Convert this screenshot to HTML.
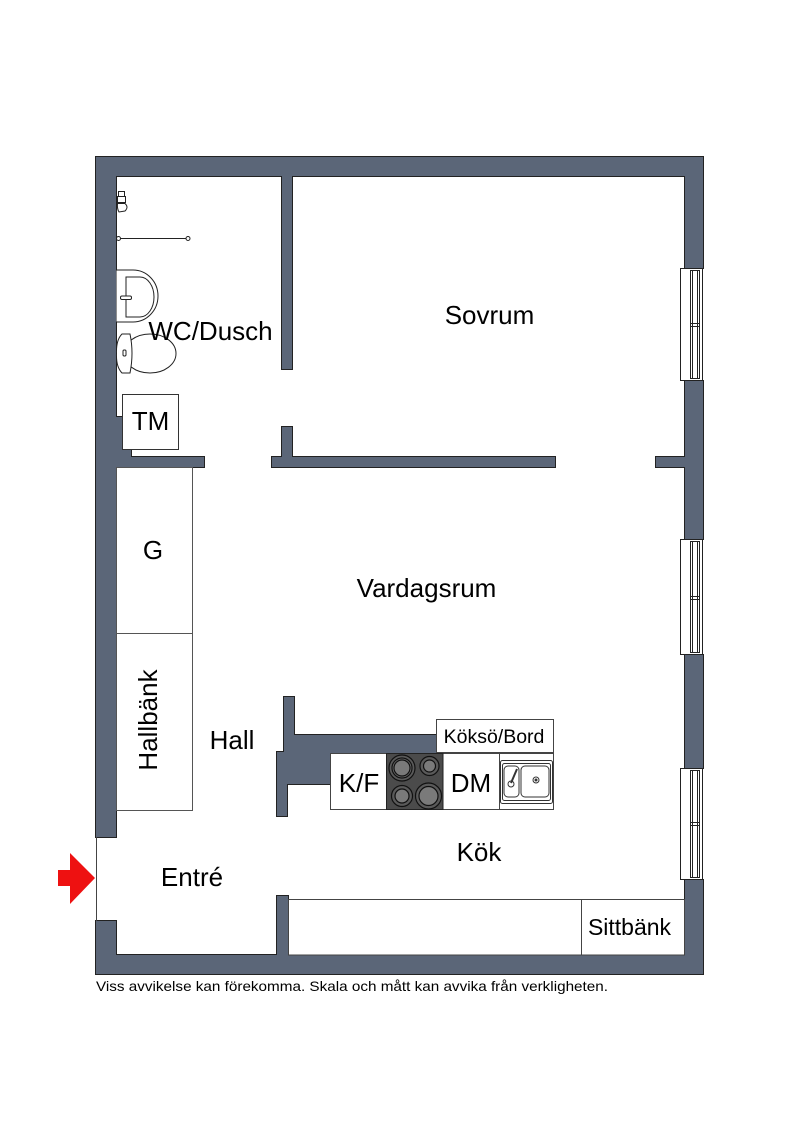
<!DOCTYPE html>
<html>
<head>
<meta charset="utf-8">
<style>
html,body{margin:0;padding:0;background:#fff;}
svg{display:block;}
text{font-family:"Liberation Sans",Arial,sans-serif;fill:#000;}
</style>
</head>
<body>
<svg width="800" height="1131" viewBox="0 0 800 1131" xmlns="http://www.w3.org/2000/svg">
<rect x="0" y="0" width="800" height="1131" fill="#fff"/>

<!-- walls: stroked pass -->
<g fill="#5b6678" stroke="#222" stroke-width="2">
  <rect x="96" y="157" width="607" height="19"/>
  <rect x="685" y="157" width="18" height="111"/>
  <rect x="685" y="381" width="18" height="158"/>
  <rect x="685" y="655" width="18" height="113"/>
  <rect x="685" y="880" width="18" height="94"/>
  <rect x="96" y="955" width="607" height="19"/>
  <rect x="96" y="157" width="20" height="680"/>
  <rect x="96" y="921" width="20" height="53"/>
  <rect x="116" y="417" width="6" height="40"/>
  <rect x="116" y="449" width="15" height="8"/>
  <rect x="116" y="457" width="88" height="10"/>
  <rect x="282" y="176" width="10" height="193"/>
  <rect x="282" y="427" width="10" height="30"/>
  <rect x="272" y="457" width="283" height="10"/>
  <rect x="656" y="457" width="29" height="10"/>
  <polygon points="284,697 294,697 294,735 437,735 437,753 330,753 330,784 287,784 287,816 277,816 277,752 284,752"/>
  <rect x="277" y="896" width="11" height="59"/>
</g>
<!-- walls: fill pass to hide internal seams -->
<g fill="#5b6678" stroke="none">
  <rect x="96" y="157" width="607" height="19"/>
  <rect x="685" y="157" width="18" height="111"/>
  <rect x="685" y="381" width="18" height="158"/>
  <rect x="685" y="655" width="18" height="113"/>
  <rect x="685" y="880" width="18" height="94"/>
  <rect x="96" y="955" width="607" height="19"/>
  <rect x="96" y="157" width="20" height="680"/>
  <rect x="96" y="921" width="20" height="53"/>
  <rect x="116" y="417" width="6" height="40"/>
  <rect x="116" y="449" width="15" height="8"/>
  <rect x="116" y="457" width="88" height="10"/>
  <rect x="282" y="176" width="10" height="193"/>
  <rect x="282" y="427" width="10" height="30"/>
  <rect x="272" y="457" width="283" height="10"/>
  <rect x="656" y="457" width="29" height="10"/>
  <polygon points="284,697 294,697 294,735 437,735 437,753 330,753 330,784 287,784 287,816 277,816 277,752 284,752"/>
  <rect x="277" y="896" width="11" height="59"/>
</g>

<!-- entrance line -->
<line x1="96.5" y1="837" x2="96.5" y2="921" stroke="#444" stroke-width="1"/>

<!-- windows -->
<g fill="#fff" stroke="#222" stroke-width="1">
  <rect x="680.5" y="268.5" width="22" height="112"/>
  <rect x="690.5" y="270.5" width="9" height="108"/>
  <line x1="692.5" y1="270.5" x2="692.5" y2="378.5"/>
  <line x1="697.5" y1="270.5" x2="697.5" y2="378.5"/>
  <line x1="690.5" y1="323.5" x2="699.5" y2="323.5"/>
  <line x1="690.5" y1="326.5" x2="699.5" y2="326.5"/>

  <rect x="680.5" y="539.5" width="22" height="115"/>
  <rect x="690.5" y="541.5" width="9" height="111"/>
  <line x1="692.5" y1="541.5" x2="692.5" y2="652.5"/>
  <line x1="697.5" y1="541.5" x2="697.5" y2="652.5"/>
  <line x1="690.5" y1="596.5" x2="699.5" y2="596.5"/>
  <line x1="690.5" y1="599.5" x2="699.5" y2="599.5"/>

  <rect x="680.5" y="768.5" width="22" height="111"/>
  <rect x="690.5" y="770.5" width="9" height="107"/>
  <line x1="692.5" y1="770.5" x2="692.5" y2="877.5"/>
  <line x1="697.5" y1="770.5" x2="697.5" y2="877.5"/>
  <line x1="690.5" y1="822.5" x2="699.5" y2="822.5"/>
  <line x1="690.5" y1="825.5" x2="699.5" y2="825.5"/>
</g>

<!-- WC fixtures -->
<g fill="#fff" stroke="#222" stroke-width="1">
  <!-- shower head -->
  <rect x="118.5" y="191.5" width="6" height="5"/>
  <rect x="117.5" y="196.5" width="8" height="6"/>
  <path d="M117.5 203.5 L125 203.5 Q129 207 125 211 L119 212 Q117 209 117.5 203.5 Z"/>
  <!-- shower rail -->
  <line x1="117" y1="238.5" x2="188" y2="238.5"/>
  <circle cx="118.5" cy="238.5" r="2"/>
  <circle cx="188" cy="238.5" r="2"/>
  <!-- sink -->
  <path d="M116.5 270 L133 270 A 25 26 0 0 1 133 322 L116.5 322"/>
  <path d="M126 277 L140 277 A 14 20 0 0 1 140 317 L126 317 Z"/>
  <rect x="120.5" y="296" width="11" height="3.5" rx="1.5"/>
  <!-- toilet -->
  <ellipse cx="150" cy="353.5" rx="26" ry="19.5"/>
  <path d="M130 334 L122 334 Q116 340 116.5 353.5 Q116 367 122 373 L130 373 Q134 353 130 334 Z"/>
  <rect x="123" y="350" width="3" height="6" rx="1.2"/>
</g>

<!-- TM -->
<rect x="122.5" y="394.5" width="56" height="55" fill="#fff" stroke="#333" stroke-width="1"/>

<!-- G / Hallbänk -->
<rect x="116.5" y="467.5" width="76" height="166" fill="#fff" stroke="#555" stroke-width="1"/>
<rect x="116.5" y="633.5" width="76" height="177" fill="#fff" stroke="#555" stroke-width="1"/>

<!-- Kitchen -->
<rect x="436.5" y="719.5" width="117" height="33" fill="#fff" stroke="#444" stroke-width="1"/>
<rect x="330.5" y="753.5" width="223" height="56" fill="#fff" stroke="#444" stroke-width="1"/>
<rect x="386.5" y="753.5" width="56.5" height="56" fill="#4b4b4b" stroke="#222" stroke-width="1"/>
<line x1="499.5" y1="753.5" x2="499.5" y2="809.5" stroke="#444" stroke-width="1"/>
<g stroke="#111" stroke-width="1.2">
  <circle cx="402" cy="768" r="13" fill="#5a5a5a"/>
  <circle cx="402" cy="768" r="10" fill="#6a6a6a"/>
  <circle cx="402" cy="768" r="8" fill="#7a7a7a"/>
  <circle cx="429.5" cy="766" r="9.5" fill="#5a5a5a"/>
  <circle cx="429.5" cy="766" r="6" fill="#7a7a7a"/>
  <circle cx="402" cy="796" r="10.5" fill="#5a5a5a"/>
  <circle cx="402" cy="796" r="7" fill="#7a7a7a"/>
  <circle cx="428.5" cy="796" r="13" fill="#5a5a5a"/>
  <circle cx="428.5" cy="796" r="9.5" fill="#7a7a7a"/>
</g>
<g fill="#fff" stroke="#333" stroke-width="1">
  <rect x="500.5" y="760.5" width="52" height="43" rx="2"/>
  <rect x="502.5" y="763.5" width="48" height="37" rx="2"/>
  <rect x="504" y="766" width="15" height="31" rx="4"/>
  <rect x="521" y="766" width="28" height="31" rx="4"/>
  <circle cx="536" cy="780" r="3"/>
  <circle cx="536" cy="780" r="1" fill="#333"/>
  <circle cx="511" cy="784" r="3"/>
  <line x1="511" y1="783" x2="517" y2="769" stroke-width="2"/>
</g>

<!-- Bench / Sittbänk -->
<rect x="288.5" y="899.5" width="396" height="55.5" fill="#fff" stroke="#444" stroke-width="1"/>
<line x1="581.5" y1="899.5" x2="581.5" y2="955" stroke="#444" stroke-width="1"/>

<!-- entry arrow -->
<polygon points="58,870 70,870 70,853 95,878 70,904 70,886 58,886" fill="#ee1111"/>

<!-- labels -->
<text x="210.5" y="340" font-size="26" text-anchor="middle">WC/Dusch</text>
<text x="489.5" y="324" font-size="26" text-anchor="middle">Sovrum</text>
<text x="150.5" y="430" font-size="26" text-anchor="middle">TM</text>
<text x="153" y="559" font-size="26" text-anchor="middle">G</text>
<text x="426.5" y="597" font-size="26" text-anchor="middle">Vardagsrum</text>
<text transform="translate(157,720) rotate(-90)" font-size="26" text-anchor="middle">Hallbänk</text>
<text x="232" y="749" font-size="26" text-anchor="middle">Hall</text>
<text x="494" y="743" font-size="19.5" text-anchor="middle">Köksö/Bord</text>
<text x="359" y="792" font-size="26" text-anchor="middle">K/F</text>
<text x="471" y="792" font-size="26" text-anchor="middle">DM</text>
<text x="479" y="861" font-size="26" text-anchor="middle">Kök</text>
<text x="192" y="886" font-size="26" text-anchor="middle">Entré</text>
<text x="629.5" y="935" font-size="23" text-anchor="middle">Sittbänk</text>
<text x="96" y="991" font-size="14" textLength="512" lengthAdjust="spacingAndGlyphs">Viss avvikelse kan förekomma. Skala och mått kan avvika från verkligheten.</text>
</svg>
</body>
</html>
